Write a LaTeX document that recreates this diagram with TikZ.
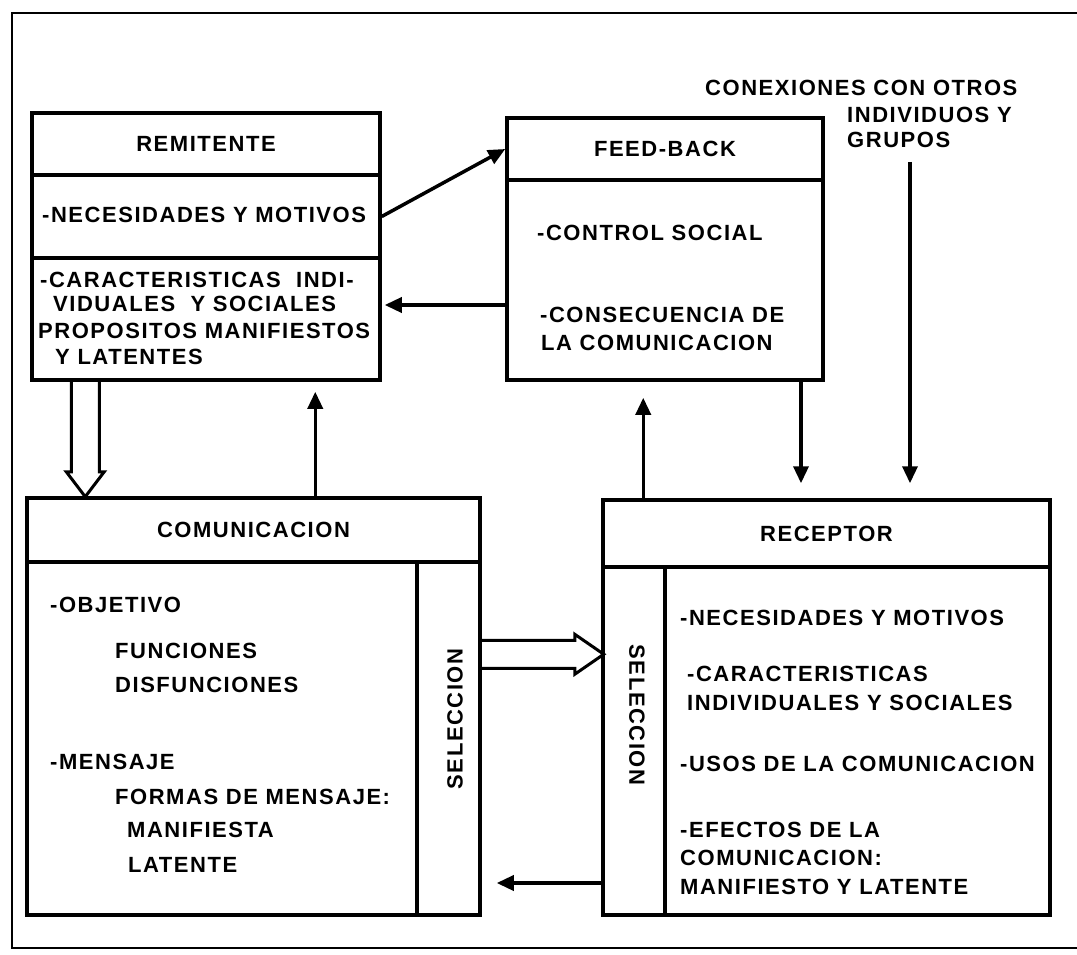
\documentclass[tikz,border=0pt]{standalone}
\usepackage{fontspec}
\setmainfont{Liberation Sans}[LetterSpace=7]
\usetikzlibrary{arrows.meta}
\usetikzlibrary{calc}
\newcommand{\diafont}{\fontsize{22}{26}\selectfont\bfseries}

\begin{document}
\begin{tikzpicture}[x=1pt,y=-1pt,
  every node/.style={font=\diafont},
  box/.style={draw,line width=3.5pt,inner sep=0pt},
  txt/.style={anchor=west,inner sep=0pt},
  arr/.style={line width=3.5pt,-{Triangle[length=17pt,width=15pt]}},
  hollow/.style={line width=3pt,line join=miter}]
\useasboundingbox (0,0) rectangle (1077,954);
\draw[line width=2.5pt] (1077,13)--(12,13)--(12,948)--(1077,948);

% remitente
\node[box,minimum width=348,minimum height=62] (rem) at (206,144) {REMITENTE};
\node[box,minimum width=348,minimum height=83] (remnec) at (206,216.5) {};
\node[box,minimum width=348,minimum height=122] (remcar) at (206,319) {};
\node[txt] (remneca) at (42,215) {-NECESIDADES Y MOTIVOS};
\node[txt] (remcara) at (40,280) {-CARACTERISTICAS\ \ INDI-};
\node[txt] (remcarb) at (53,304) {VIDUALES\ \ Y SOCIALES};
\node[txt] (remcarc) at (38,331) {PROPOSITOS MANIFIESTOS};
\node[txt] (remcard) at (55,357) {Y LATENTES};

% feed-back
\node[box,minimum width=316,minimum height=62] (fb) at (665,149) {FEED-BACK};
\node[box,minimum width=316,minimum height=200] (fbb) at (665,280) {};
\node[txt] (fbctrl) at (537,233) {-CONTROL SOCIAL};
\node[txt] (fbcona) at (540,315) {-CONSECUENCIA DE};
\node[txt] (fbconb) at (541,343) {LA COMUNICACION};

% conexiones
\node[txt] (conexa) at (705,88) {CONEXIONES CON OTROS};
\node[txt] (conexb) at (847,115) {INDIVIDUOS Y};
\node[txt] (conexc) at (847,140) {GRUPOS};

% comunicacion
\node[box,minimum width=453,minimum height=64] (com) at (253.5,530) {COMUNICACION};
\node[box,minimum width=390,minimum height=353] (comb) at (222,738.5) {};
\node[box,minimum width=63,minimum height=353] (comsel) at (448.5,738.5) {};
\node[rotate=90,inner sep=0pt] (comsellbl) at (455,719) {SELECCION};
\node[txt] (comobj) at (50,605) {-OBJETIVO};
\node[txt] (comfun) at (115,651) {FUNCIONES};
\node[txt] (comdis) at (115,685) {DISFUNCIONES};
\node[txt] (commen) at (50,762) {-MENSAJE};
\node[txt] (comfor) at (115,797) {FORMAS DE MENSAJE:};
\node[txt] (comman) at (127,830) {MANIFIESTA};
\node[txt] (comlat) at (128,865) {LATENTE};

% receptor
\node[box,minimum width=447,minimum height=67] (rec) at (826.5,533.5) {RECEPTOR};
\node[box,minimum width=62,minimum height=348] (recsel) at (634,741) {};
\node[box,minimum width=385,minimum height=348] (recb) at (857.5,741) {};
\node[rotate=-90,inner sep=0pt] (recsellbl) at (637,715) {SELECCION};
\node[txt] (recnec) at (680,618) {-NECESIDADES Y MOTIVOS};
\node[txt] (recchara) at (687,674) {-CARACTERISTICAS};
\node[txt] (reccharb) at (687,703) {INDIVIDUALES Y SOCIALES};
\node[txt] (recusos) at (680,764) {-USOS DE LA COMUNICACION};
\node[txt] (recefa) at (680,830) {-EFECTOS DE LA};
\node[txt] (recefb) at (680,858) {COMUNICACION:};
\node[txt] (recefc) at (680,887) {MANIFIESTO Y LATENTE};

% arrows
\coordinate (fbdn) at ($(fbb.south)+(136,0)$);
\coordinate (recup) at ($(rec.north west)+(42,0)$);
\coordinate (comup) at ($(com.north west)+(290,0)$);
\coordinate (recback) at ($(recsel.west)+(0,142)$);
\coordinate (conexdn) at ($(conexc.south west)+(63,14)$);
\draw[arr] (remnec.east)--(fb.west);
\draw[arr] ($(fbb.west)+(0,25)$)--($(remcar.east)+(3,-14)$);
\draw[arr] (fbdn)--($(fbdn |- rec.north)+(0,-15)$);
\draw[arr] (recup)--($(recup |- fbb.south)+(0,16)$);
\draw[arr] (conexdn)--($(conexdn |- rec.north)+(0,-15)$);
\draw[arr] (comup)--($(comup |- remcar.south)+(0,10)$);
\draw[arr] (recback)--($(recback -| comsel.east)+(15,0)$);
\draw[hollow] ($(remcar.south west)+(41,0)$)--++(0,90)--++(-5,0)--++(19,25)--++(19,-25)--++(-5,0)--++(0,-90);
\draw[hollow] ($(comsel.north east)+(0,80)$)--++(93,0)--++(0,-6)--++(29,20)--++(-29,20)--++(0,-6)--++(-93,0);
\end{tikzpicture}
\end{document}
